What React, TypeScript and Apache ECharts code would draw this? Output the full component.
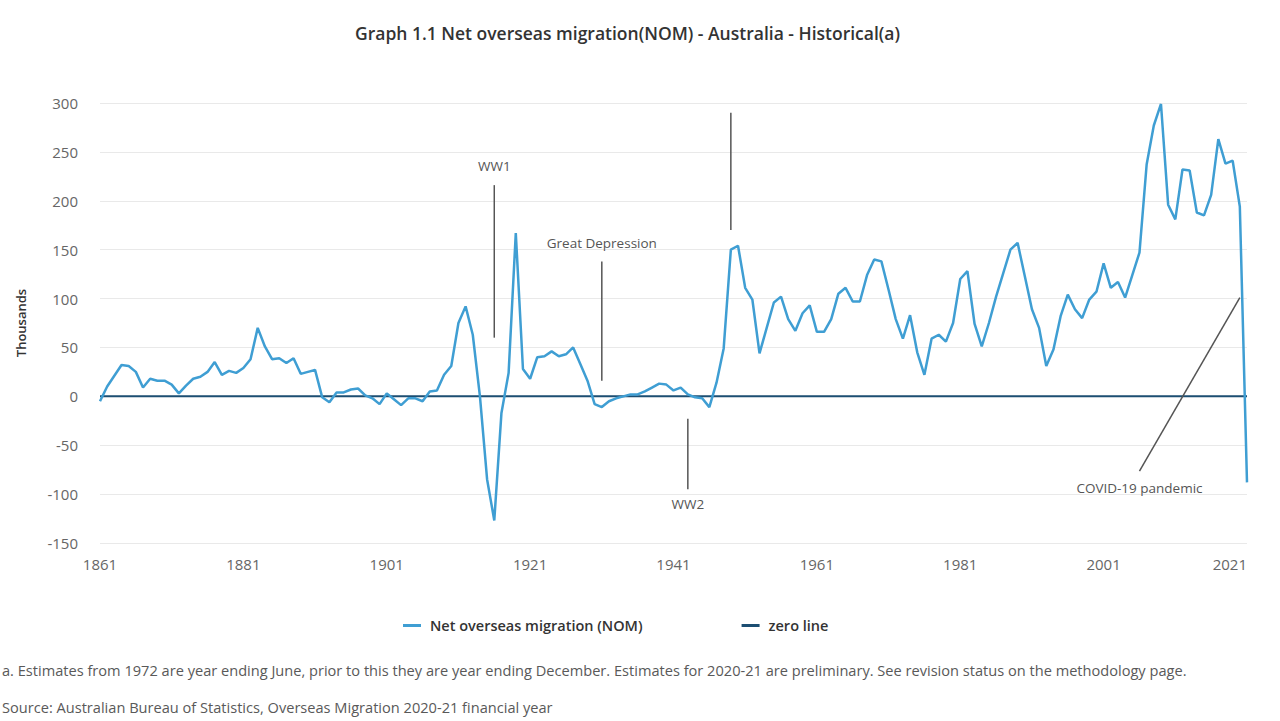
import React, { useEffect, useRef } from "react";
import * as echarts from "echarts";

const START_YEAR = 1861;
const END_YEAR = 2021;
const YEARS: string[] = [];
for (let y = START_YEAR; y <= END_YEAR; y++) YEARS.push(String(y));

// Net overseas migration, thousands, 1861 - 2021
const NOM_1861_1900 = [
  -5, 10, 21, 32, 31, 25, 9, 18, 16, 16,
  12, 3, 11, 18, 20, 25, 35, 22, 26, 24,
  29, 38, 70, 51, 38, 39, 34, 39, 23, 25,
  27, -1, -6, 4, 4, 7, 8, 1, -2, -8,
];
const NOM_1901_1940 = [
  3, -3, -9, -2, -2, -5, 5, 6, 22, 31,
  75, 92, 63, 0, -85, -127, -17, 24, 167, 28,
  18, 40, 41, 46, 41, 43, 50, 33, 16, -8,
  -11, -5, -2, 0, 2, 2, 5, 9, 13, 12,
];
const NOM_1941_1980 = [
  6, 9, 2, -1, -2, -11, 14, 49, 150, 154,
  111, 99, 44, 70, 96, 102, 79, 67, 85, 93,
  66, 66, 79, 105, 111, 97, 97, 124, 140, 138,
  109, 79, 59, 83, 45, 22, 59, 63, 56, 75,
];
const NOM_1981_2021 = [
  120, 128, 74, 51, 75, 102, 126, 150, 157, 123,
  89, 70, 31, 48, 82, 104, 89, 80, 99, 107,
  136, 111, 117, 101, 124, 147, 237, 277, 299, 196,
  181, 232, 231, 188, 185, 206, 263, 238, 241, 194,
  -88,
];
const NOM = [...NOM_1861_1900, ...NOM_1901_1940, ...NOM_1941_1980, ...NOM_1981_2021];
const ZERO_LINE = YEARS.map(() => 0);

const Y_MIN = -150;
const Y_MAX = 300;
const Y_INTERVAL = 50;

const TITLE = "Graph 1.1 Net overseas migration(NOM) - Australia - Historical(a)";
const FOOTNOTE =
  "a. Estimates from 1972 are year ending June, prior to this they are year ending December. Estimates for 2020-21 are preliminary. See revision status on the methodology page.";
const SOURCE = "Source: Australian Bureau of Statistics, Overseas Migration 2020-21 financial year";

// annotations: [year, valueFrom] -> [year, valueTo], label at [year, value]
const ANNOTATIONS = [
  { label: "WW1", from: [1915.9, 216], to: [1915.9, 60], text: [1915.9, 236] },
  { label: "Great Depression", from: [1931, 138], to: [1931, 16], text: [1931, 157] },
  { label: "WW2", from: [1943, -23], to: [1943, -95], text: [1943, -110] },
  { label: "", from: [1948.8, 290], to: [1948.8, 170], text: [1948.8, 310] },
  { label: "COVID-19 pandemic", from: [2005.8, -76.5], to: [2020, 101], text: [2005.7, -94] },
];

const FONT = "'Open Sans', 'Noto Sans', sans-serif";

export default function App() {
  const ref = useRef<HTMLDivElement>(null);
  useEffect(() => {
    document.body.style.margin = "0";
    if (!ref.current) return;
    const chart = echarts.init(ref.current, undefined, { renderer: "svg" });
    chart.setOption({
      animation: false,
      textStyle: { fontFamily: FONT },
      title: {
        text: TITLE,
        left: 350,
        top: 19,
        textStyle: { fontSize: 17.5, fontWeight: 600, color: "#333", fontFamily: FONT },
      },
      legend: {
        left: 398,
        top: 613,
        itemGap: 99,
        itemWidth: 18,
        itemHeight: 3,
        icon: "rect",
        textStyle: { fontSize: 14.5, fontWeight: 600, color: "#333", fontFamily: FONT, padding: [0, 0, 0, 4] },
        data: ["Net overseas migration (NOM)", "zero line"],
      },
      grid: { left: 100, right: 33, top: 103, bottom: 178, containLabel: false },
      xAxis: {
        type: "category",
        data: YEARS,
        boundaryGap: false,
        axisLine: { show: false },
        axisTick: { show: false },
        axisLabel: {
          interval: 19,
          margin: 13,
          fontSize: 15,
          color: "#666",
          fontFamily: FONT,
          alignMaxLabel: "right",
        },
        splitLine: { show: false },
      },
      yAxis: {
        type: "value",
        min: Y_MIN,
        max: Y_MAX,
        interval: Y_INTERVAL,
        name: "Thousands",
        nameLocation: "middle",
        nameGap: 73,
        nameRotate: 90,
        nameTextStyle: { fontSize: 13, fontWeight: 600, color: "#333", fontFamily: FONT },
        axisLine: { show: false },
        axisTick: { show: false },
        axisLabel: { fontSize: 15, color: "#666", margin: 22, fontFamily: FONT },
        splitLine: { lineStyle: { color: "#e9e9e9", width: 1 } },
      },
      series: [
        {
          name: "zero line",
          type: "line",
          data: ZERO_LINE,
          symbol: "none",
          lineStyle: { color: "#1c4e72", width: 2 },
          itemStyle: { color: "#1c4e72" },
          z: 2,
        },
        {
          name: "Net overseas migration (NOM)",
          type: "line",
          data: NOM,
          symbol: "none",
          lineStyle: { color: "#3f9ed3", width: 2.5 },
          itemStyle: { color: "#3f9ed3" },
          z: 3,
        },
      ],
    });

    const toPx = (p: number[]) =>
      chart.convertToPixel({ gridIndex: 0 }, [p[0] - START_YEAR, p[1]]) as number[];

    const graphics: any[] = [];
    ANNOTATIONS.forEach((a) => {
      const f = toPx(a.from);
      const t = toPx(a.to);
      graphics.push({
        type: "line",
        shape: { x1: f[0], y1: f[1], x2: t[0], y2: t[1] },
        style: { stroke: "#555", lineWidth: 1.5 },
        z: 10,
      });
      if (a.label) {
        const tp = toPx(a.text);
        graphics.push({
          type: "text",
          x: tp[0],
          y: tp[1],
          style: {
            text: a.label,
            fill: "#555",
            font: `13.5px ${FONT}`,
            textAlign: "center",
            textVerticalAlign: "middle",
          },
          z: 10,
        });
      }
    });
    graphics.push({
      type: "text",
      left: 2,
      top: 662,
      style: { text: FOOTNOTE, fill: "#595959", font: `14.6px ${FONT}` },
    });
    graphics.push({
      type: "text",
      left: 2,
      top: 699,
      style: { text: SOURCE, fill: "#595959", font: `14.6px ${FONT}` },
    });
    chart.setOption({ graphic: graphics });

    return () => chart.dispose();
  }, []);
  return <div ref={ref} style={{ width: 1280, height: 721 }} />;
}
